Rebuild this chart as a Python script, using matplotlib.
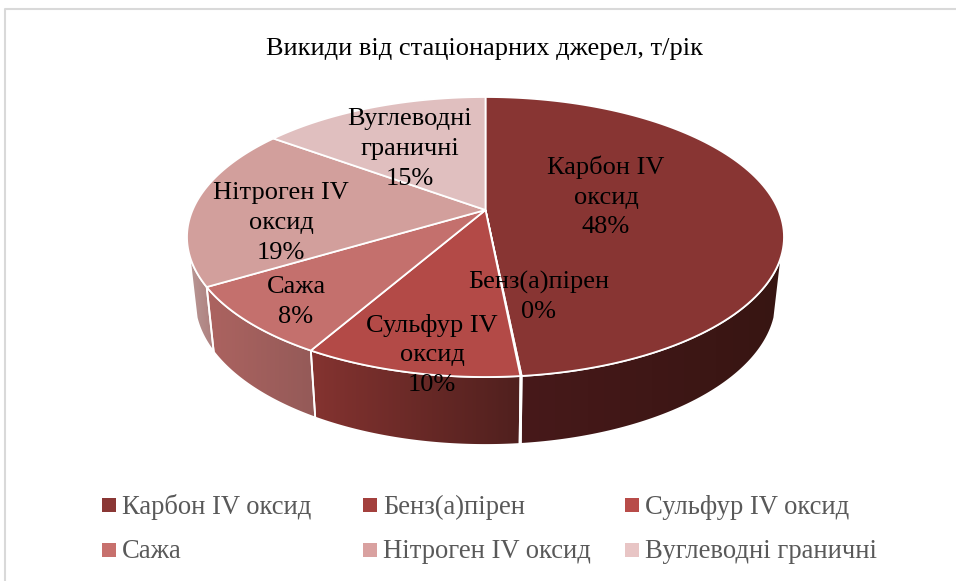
import numpy as np
import matplotlib
matplotlib.use('Agg')
import matplotlib.pyplot as plt
from matplotlib.patches import Polygon, Rectangle

plt.rcParams['font.family'] = ['Liberation Serif', 'DejaVu Sans']

title = 'Викиди від стаціонарних джерел, т/рік'
names = ['Карбон IV оксид', 'Бенз(а)пірен', 'Сульфур IV оксид',
         'Сажа', 'Нітроген IV оксид', 'Вуглеводні граничні']
wrapped = ['Карбон IV\nоксид', 'Бенз(а)пірен', 'Сульфур IV\nоксид',
           'Сажа', 'Нітроген IV\nоксид', 'Вуглеводні\nграничні']
values = [48.49, 0.05, 9.6, 8.0, 18.7, 15.25]

top_colors = ['#883533', '#9f3e3b', '#b34a47', '#c4706d', '#d29f9c', '#e0bfbf']
legend_colors = ['#8a3735', '#a3403d', '#b84c49', '#c7706d', '#d9a1a0', '#e8c5c5']
wall_left = ['#47191a', '#4a1c1a', '#843330', '#ac6360', '#b99896', '#c9a9a9']
wall_right = ['#371512', '#4a1c1a', '#50201e', '#945a58', '#ad7f7d', '#c9a9a9']
label_pos = [(606, 197), (539, 297), (432, 355), (296, 302), (281, 223), (410, 149)]

# ellipses in pixels: the top of the disc and the lower rim
cx, cy, rx, ry = 485.5, 237, 298.5, 140
bx, by, brx, bry = 485.5, 300, 291, 145
k = 0.215   # perspective of the disc


def warp(theta):
    # true angle to angle on the drawn ellipse
    x = np.sin(theta)
    y = np.cos(theta)
    yy = (y + k) / (1 + k * y)
    xx = x * np.sqrt(1 - k ** 2) / (1 + k * y)
    return np.mod(np.arctan2(xx, yy), 2 * np.pi)


def top_pts(phi):
    return np.c_[cx + rx * np.sin(phi), cy - ry * np.cos(phi)]


def low_pts(phi):
    return np.c_[bx + brx * np.sin(phi), by - bry * np.cos(phi)]


fig = plt.figure(figsize=(9.56, 5.81), dpi=100)
ax = fig.add_axes([0, 0, 1, 1])

# chart frame, open at right and bottom like the screenshot
ax.plot([5.5, 5.5, 956], [581, 8.5, 8.5], color='#d9d9d9', lw=1.5)

edges = np.cumsum([0] + values) / sum(values) * 2 * np.pi
apex = (cx, 210)
wall_from = np.radians(97)
wall_to = np.radians(263)

for i in range(len(values)):
    theta = np.linspace(edges[i], edges[i + 1], 120)
    phi = warp(theta)
    phi[phi < 1e-6] = 0
    if i == len(values) - 1:
        phi[-1] = 2 * np.pi
    pts = np.vstack([[apex], top_pts(phi)])
    ax.add_patch(Polygon(pts, closed=True, fc=top_colors[i], ec='white', lw=1.3, zorder=3))

    # visible part of the side wall
    a = max(phi[0], wall_from)
    b = min(phi[-1], wall_to)
    if b <= a:
        continue
    ph = np.linspace(a, b, 100)
    wall = np.vstack([top_pts(ph), low_pts(ph)[::-1]])
    poly = Polygon(wall, closed=True, fc='none', ec='white', lw=1.3, zorder=2.5)
    ax.add_patch(poly)
    c1 = np.array(matplotlib.colors.to_rgb(wall_left[i]))
    c2 = np.array(matplotlib.colors.to_rgb(wall_right[i]))
    # colour goes left to right across the wall
    grad = np.linspace(0, 1, 64)[None, :, None]
    img = c1 + (c2 - c1) * grad
    im = ax.imshow(img, extent=(wall[:, 0].min(), wall[:, 0].max(),
                                wall[:, 1].max(), wall[:, 1].min()),
                   aspect='auto', zorder=2, interpolation='bilinear')
    clip = Polygon(wall, closed=True, transform=ax.transData)
    im.set_clip_path(clip)

# data labels
for i, (x, y) in enumerate(label_pos):
    pct = '%d%%' % round(values[i])
    ax.text(x, y, wrapped[i] + '\n' + pct, ha='center', va='center',
            fontsize=19, color='black', linespacing=1.45, zorder=5)

ax.text(484.5, 49, title, ha='center', va='center', fontsize=19, color='black')

# legend
leg_x = [102, 363, 625]
leg_y = [505, 550]
for i, name in enumerate(names):
    x = leg_x[i % 3]
    y = leg_y[i // 3]
    ax.add_patch(Rectangle((x, y - 7), 14, 14, fc=legend_colors[i], ec='none'))
    ax.text(x + 20, y + 2, name, ha='left', va='center', fontsize=19.2, color='#595959')

ax.set_xlim(0, 956)
ax.set_ylim(581, 0)
ax.axis('off')
fig.savefig('out.png', dpi=100, facecolor='white')
